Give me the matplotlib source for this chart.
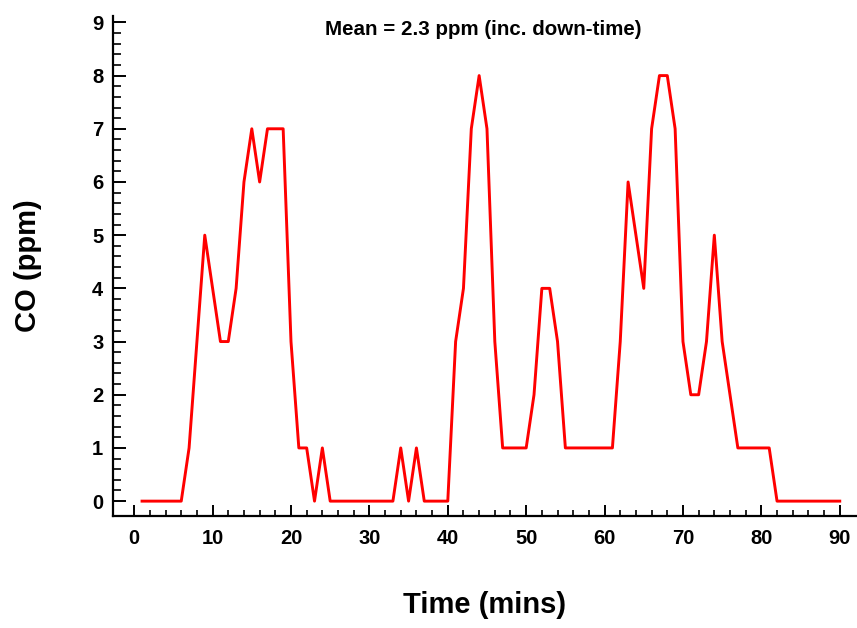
import numpy as np
import matplotlib
matplotlib.use("Agg")
import matplotlib.pyplot as plt
from matplotlib.ticker import MultipleLocator, FixedLocator

plt.rcParams['font.family'] = ['Liberation Sans', 'DejaVu Sans']
plt.rcParams['font.weight'] = 'bold'

# one reading per minute
minutes = list(range(1, 91))
co_ppm = [0, 0, 0, 0, 0, 0, 1, 3, 5, 4,
          3, 3, 4, 6, 7, 6, 7, 7, 7, 3,
          1, 1, 0, 1, 0, 0, 0, 0, 0, 0,
          0, 0, 0, 1, 0, 1, 0, 0, 0, 0,
          3, 4, 7, 8, 7, 3, 1, 1, 1, 1,
          2, 4, 4, 3, 1, 1, 1, 1, 1, 1,
          1, 3, 6, 5, 4, 7, 8, 8, 7, 3,
          2, 2, 3, 5, 3, 2, 1, 1, 1, 1,
          1, 0, 0, 0, 0, 0, 0, 0, 0, 0]
mean_label = "Mean = 2.3 ppm (inc. down-time)"

fig = plt.figure(figsize=(8.57, 6.28), dpi=100)
ax = fig.add_axes([0.1319, 0.1783, 0.8681, 0.7962])

ax.plot(minutes, co_ppm, color='#ff0000', lw=2.1)

ax.set_xlim(-2.7, 92.2)
ax.set_ylim(-0.28, 9.12)
ax.xaxis.set_major_locator(MultipleLocator(10))
ax.xaxis.set_minor_locator(FixedLocator(np.arange(2, 91, 2)))
ax.yaxis.set_major_locator(MultipleLocator(1))
ax.yaxis.set_minor_locator(FixedLocator(np.arange(0, 9.01, 0.2)))

for s in ['top', 'right']:
    ax.spines[s].set_visible(False)
for s in ['left', 'bottom']:
    ax.spines[s].set_linewidth(1.6)

ax.tick_params(axis='x', which='major', direction='in', length=8, width=1.4, pad=9, labelsize=14.5)
ax.tick_params(axis='x', which='minor', direction='in', length=4, width=1.2)
ax.tick_params(axis='y', which='major', direction='in', length=9.5, width=1.4, pad=7, labelsize=14.5)
ax.tick_params(axis='y', which='minor', direction='in', length=5.5, width=1.2)
for lbl in ax.get_xticklabels() + ax.get_yticklabels():
    lbl.set_fontweight('bold')

ax.set_xlabel("Time (mins)", fontsize=21, fontweight='bold', va='center')
ax.xaxis.set_label_coords(0.5, -0.177)
ax.set_ylabel("CO (ppm)", fontsize=21, fontweight='bold', va='center')
ax.yaxis.set_label_coords(-0.114, 0.50)
ax.text(0.498, 0.974, mean_label, transform=ax.transAxes, ha='center', va='center',
        fontsize=14.8, fontweight='bold')

fig.savefig("out.png", dpi=100)
